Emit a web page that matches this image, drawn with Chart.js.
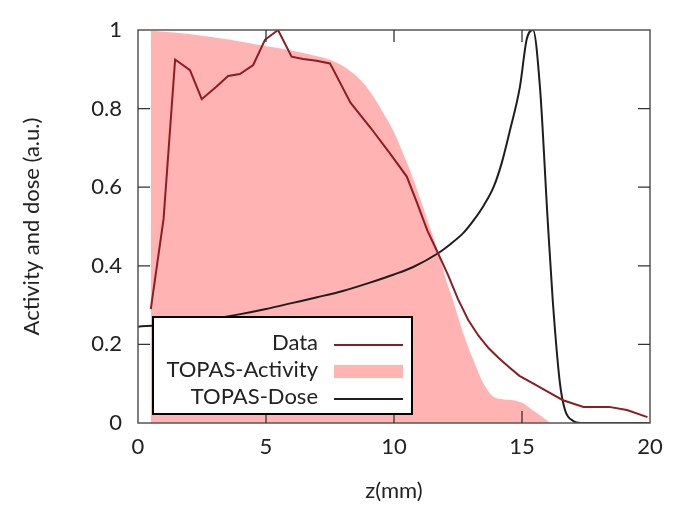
<!DOCTYPE html>
<html>
<head>
<meta charset="utf-8">
<script src="https://cdn.jsdelivr.net/npm/chart.js@4"></script>
<style>
  html, body { margin: 0; padding: 0; background: #fff; }
  #profile { display: block; }
</style>
</head>
<body>
<canvas id="profile" width="675" height="509"></canvas>
<script>
// ============================================================
// Depth profile: measured activity vs TOPAS activity / dose
// ============================================================

const xTicks = [0, 5, 10, 15, 20];
const yTicks = [0, 0.2, 0.4, 0.6, 0.8, 1];

// measured activity
const zData    = [0.5, 1.0, 1.45, 2.03, 2.49, 3.07, 3.52, 3.98, 4.5, 4.96, 5.47, 6.0, 6.45, 6.98, 7.5, 8.3, 9.1, 9.84, 10.5, 10.9, 11.3, 11.72, 12.1, 12.5, 12.9, 13.3, 13.7, 14.1, 14.5, 14.9, 15.5, 16.0, 16.6, 17.4, 18.4, 19.1, 19.9];
const dataVals = [0.29, 0.52, 0.925, 0.898, 0.824, 0.856, 0.883, 0.888, 0.911, 0.975, 1.0, 0.932, 0.926, 0.922, 0.915, 0.815, 0.75, 0.686, 0.627, 0.56, 0.49, 0.432, 0.378, 0.315, 0.262, 0.222, 0.19, 0.165, 0.142, 0.12, 0.098, 0.08, 0.058, 0.041, 0.041, 0.033, 0.015];

// simulated activity (filled)
const zActivity    = [0.5, 2.0, 3.6, 4.9, 5.9, 7.0, 7.5, 8.2, 8.8, 9.2, 9.57, 10.0, 10.35, 10.7, 11.0, 11.3, 11.7, 12.07, 12.3, 12.7, 13.1, 13.5, 13.9, 14.3, 14.65, 15.05, 15.4, 15.8, 16.1];
const activityVals = [0.998, 0.99, 0.975, 0.96, 0.949, 0.933, 0.924, 0.90, 0.865, 0.83, 0.79, 0.74, 0.687, 0.63, 0.575, 0.517, 0.44, 0.356, 0.313, 0.229, 0.16, 0.10, 0.066, 0.06, 0.058, 0.05, 0.033, 0.015, 0];

// simulated dose
const zDose    = [0, 1, 2, 3, 4, 5, 6, 7, 8, 9, 10, 10.75, 11.72, 12.2, 12.7, 13.1, 13.5, 13.9, 14.2, 14.53, 14.92, 15.18, 15.43, 15.7, 16.0, 16.2, 16.48, 16.68, 17.0, 17.3, 18, 19, 20];
const doseVals = [0.245, 0.25, 0.257, 0.266, 0.277, 0.29, 0.305, 0.32, 0.336, 0.356, 0.378, 0.397, 0.432, 0.455, 0.483, 0.515, 0.553, 0.602, 0.66, 0.745, 0.856, 0.975, 1.0, 0.856, 0.52, 0.313, 0.102, 0.033, 0.005, 0, 0, 0, 0];

const labels = ['Data', 'TOPAS-Activity', 'TOPAS-Dose'];

const red  = '#8e1c22';
const pink = '#ffb3b3';
const ink  = '#1e1e1e';
const FONT = 'Lato, "Open Sans", sans-serif';

const pts = (xs, ys) => xs.map((x, i) => ({ x: x, y: ys[i] }));

// border + inward tics on all four sides (gnuplot style)
const frameTics = {
    id: 'frameTics',
    afterDatasetsDraw(chart) {
        const { ctx, chartArea: a, scales: { x, y } } = chart;
        const len = 12;
        ctx.save();
        ctx.strokeStyle = '#555';
        ctx.lineWidth = 1.5;
        ctx.strokeRect(a.left, a.top, a.right - a.left, a.bottom - a.top);
        ctx.strokeStyle = '#333';
        ctx.lineWidth = 1.3;
        ctx.beginPath();
        xTicks.slice(1, -1).forEach(v => {
            const px = x.getPixelForValue(v);
            ctx.moveTo(px, a.bottom); ctx.lineTo(px, a.bottom - len);
            ctx.moveTo(px, a.top);    ctx.lineTo(px, a.top + len);
        });
        yTicks.slice(1, -1).forEach(v => {
            const py = y.getPixelForValue(v);
            ctx.moveTo(a.left, py);  ctx.lineTo(a.left + len, py);
            ctx.moveTo(a.right, py); ctx.lineTo(a.right - len, py);
        });
        ctx.stroke();
        ctx.restore();
    }
};

// boxed key, text right-aligned with the sample on the right
const keyBox = {
    id: 'keyBox',
    afterDraw(chart) {
        const { ctx, chartArea: a } = chart;
        const bx = a.left + 15, by = a.bottom - 106, bw = 259, bh = 97;
        ctx.save();
        ctx.fillStyle = '#fff';
        ctx.fillRect(bx, by, bw, bh);
        ctx.strokeStyle = '#000';
        ctx.lineWidth = 2;
        ctx.strokeRect(bx, by, bw, bh);

        ctx.font = '22px ' + FONT;
        ctx.textAlign = 'right';
        ctx.textBaseline = 'middle';
        const textRight = bx + 165, s0 = bx + 181, s1 = bx + 250;
        const rows = [by + 27, by + 54, by + 81];
        rows.forEach((ry, k) => {
            const ds = chart.data.datasets[k];
            ctx.fillStyle = '#222';
            ctx.fillText(ds.label, textRight, ry - 1);
            if (ds.fill) {
                ctx.fillStyle = ds.backgroundColor;
                ctx.fillRect(s0, ry - 6, s1 - s0, 13);
            } else {
                ctx.strokeStyle = ds.borderColor;
                ctx.lineWidth = 2;
                ctx.beginPath();
                ctx.moveTo(s0, ry + 1);
                ctx.lineTo(s1, ry + 1);
                ctx.stroke();
            }
        });
        ctx.restore();
    }
};

new Chart(document.getElementById('profile').getContext('2d'), {
    type: 'line',
    data: {
        datasets: [
            {
                label: labels[0],
                data: pts(zData, dataVals),
                borderColor: red,
                borderWidth: 2,
                pointRadius: 0,
                tension: 0,
                fill: false,
                order: 0
            },
            {
                label: labels[1],
                data: pts(zActivity, activityVals),
                borderWidth: 0,
                borderColor: pink,
                backgroundColor: pink,
                pointRadius: 0,
                cubicInterpolationMode: 'monotone',
                fill: 'origin',
                order: 2
            },
            {
                label: labels[2],
                data: pts(zDose, doseVals),
                borderColor: ink,
                borderWidth: 2,
                pointRadius: 0,
                cubicInterpolationMode: 'monotone',
                fill: false,
                order: 1
            }
        ]
    },
    options: {
        responsive: false,
        animation: false,
        layout: { padding: { top: 30, right: 25, left: 0, bottom: 0 } },
        plugins: {
            legend: { display: false },
            tooltip: { enabled: false }
        },
        scales: {
            x: {
                type: 'linear',
                min: 0,
                max: 20,
                afterBuildTicks: s => { s.ticks = xTicks.map(v => ({ value: v })); },
                afterFit: s => { s.height = 86; },
                grid: { display: false, drawTicks: false },
                border: { display: false },
                ticks: { color: '#222', padding: 11, font: { family: FONT, size: 22 } },
                title: {
                    display: true,
                    text: 'z(mm)',
                    color: '#222',
                    font: { family: FONT, size: 22 },
                    padding: { top: 0, bottom: 5 }
                }
            },
            y: {
                min: 0,
                max: 1,
                afterBuildTicks: s => { s.ticks = yTicks.map(v => ({ value: v })); },
                afterFit: s => { s.width = 138; },
                grid: { display: false, drawTicks: false },
                border: { display: false },
                ticks: {
                    color: '#222',
                    padding: 16,
                    font: { family: FONT, size: 22 },
                    callback: v => String(+v.toFixed(1))
                },
                title: {
                    display: true,
                    text: 'Activity and dose (a.u.)',
                    color: '#222',
                    font: { family: FONT, size: 22 },
                    padding: { top: 19, bottom: 0 }
                }
            }
        }
    },
    plugins: [frameTics, keyBox]
});
</script>
</body>
</html>
